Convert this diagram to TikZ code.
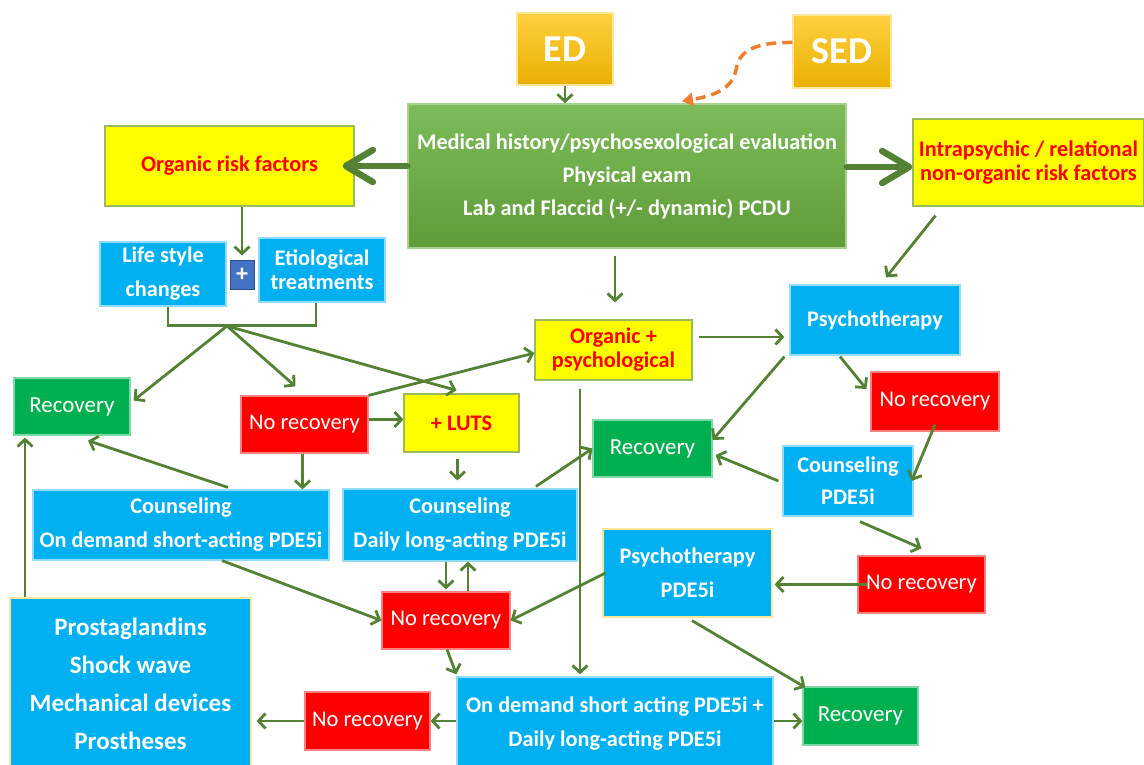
\documentclass[tikz,border=0pt]{standalone}
\usepackage{fontspec}
\setmainfont{Carlito}
\usetikzlibrary{arrows.meta,calc}
\definecolor{lg}{HTML}{548235}
\definecolor{cy}{HTML}{00B0F0}
\definecolor{cyb}{HTML}{8FDDF8}
\definecolor{yl}{HTML}{FFFF00}
\definecolor{ylb}{HTML}{9BBB59}
\definecolor{rd}{HTML}{FF0000}
\definecolor{rdb}{HTML}{FF8080}
\definecolor{gr}{HTML}{00B050}
\definecolor{grb}{HTML}{7FD8A8}
\definecolor{goldt}{HTML}{FFD040}
\definecolor{goldb}{HTML}{E9B000}
\definecolor{goldl}{HTML}{FFE699}
\definecolor{maint}{HTML}{7DBB5A}
\definecolor{mainb}{HTML}{5F9C38}
\definecolor{mainl}{HTML}{A9D18E}
\definecolor{org}{HTML}{ED7D31}
\definecolor{plusc}{HTML}{4472C4}
\definecolor{plusd}{HTML}{2F528F}
\begin{document}
\begin{tikzpicture}[x=1pt,y=-1pt,
  bx/.style 2 args={minimum width=#1pt, minimum height=#2pt, inner sep=0pt, align=center},
  bf/.style={font=\bfseries\fontsize{22.3}{#1}\selectfont},
  cyanb/.style={fill=cy, draw=cyb, line width=1.2pt, text=white},
  yelb/.style={fill=yl, draw=ylb, line width=1.2pt, text=rd},
  redb/.style={fill=rd, draw=rdb, line width=1.2pt, text=white, font=\fontsize{22.5}{24}\selectfont},
  grnb/.style={fill=gr, draw=grb, line width=1.2pt, text=white, font=\fontsize{23}{24}\selectfont},
  goldbox/.style={top color=goldt, bottom color=goldb, draw=goldl, line width=1.5pt, text=white, font=\bfseries\fontsize{38}{40}\selectfont},
  mainbox/.style={top color=maint, bottom color=mainb, draw=mainl, line width=1.5pt, text=white},
  ar/.style={draw=lg, line width=2.8pt, -{Straight Barb[length=7pt,width=15pt]}},
  ln/.style={draw=lg, line width=2.8pt},
  thick arrow/.style={draw=lg, line width=6.5pt, line cap=round, -{Straight Barb[length=27pt,width=32pt,round]}},
]
\useasboundingbox (0,0) rectangle (1144,765);

% ---------- nodes ----------
\node[goldbox,bx={96}{72}] (ED) at (565,49) {ED};
\node[goldbox,bx={98}{73}] (SED) at (842,51.5) {SED};
\node[mainbox,bx={438}{144},bf=33] (main) at (627,176) {Medical history/psychosexological evaluation\\Physical exam\\Lab and Flaccid (+/- dynamic) PCDU};
\node[yelb,bx={249}{80},bf=24] (orf) at (229.5,166) {Organic risk factors};
\node[yelb,bx={231}{87},bf=24] (intra) at (1028.5,162.5) {Intrapsychic / relational\\non-organic risk factors};
\node[cyanb,bx={126}{64},bf=34] (life) at (163,274) {Life style\\changes};
\node[fill=plusc, draw=plusd, line width=1pt, text=white, bx={24}{29}, font=\bfseries\fontsize{24}{24}\selectfont] (plus) at (242,274.5) {+};
\node[cyanb,bx={126}{64},bf=24] (etio) at (322,270) {Etiological\\treatments};
\node[yelb,bx={157}{60},bf=24] (op) at (613.5,350) {Organic +\\psychological};
\node[cyanb,bx={170}{70},bf=24] (psy) at (875,320) {Psychotherapy};
\node[grnb,bx={116}{57}] (rec1) at (72,406.5) {Recovery};
\node[redb,bx={127}{57}] (nr1) at (304.5,424.5) {No recovery};
\node[yelb,bx={115}{58},bf=24] (luts) at (461.5,423) {+ LUTS};
\node[grnb,bx={119}{57}] (rec2) at (652.5,448.5) {Recovery};
\node[redb,bx={128}{59}] (nr2) at (935,401.5) {No recovery};
\node[cyanb,bx={130}{70},bf=32] (cp) at (848,481) {Counseling\\PDE5i};
\node[cyanb,bx={296}{70},bf=34] (cod) at (181,525) {Counseling\\On demand short-acting PDE5i};
\node[cyanb,bx={234}{72},bf=34] (cdl) at (460,525) {Counseling\\Daily long-acting PDE5i};
\node[cyanb,bx={169}{88},bf=34,draw=goldl] (ppde) at (687.5,573) {Psychotherapy\\PDE5i};
\node[redb,bx={127}{57}] (nr3) at (921.5,584.5) {No recovery};
\node[redb,bx={128}{57}] (nr4) at (446,620.5) {No recovery};
\node[cyanb,bx={241}{172},draw=goldl,font=\bfseries\fontsize{25}{38}\selectfont] (pros) at (130.5,684) {Prostaglandins\\Shock wave\\Mechanical devices\\Prostheses};
\node[cyanb,bx={316}{93},bf=34] (odd) at (615,723.5) {On demand short acting PDE5i +\\Daily long-acting PDE5i};
\node[redb,bx={125}{58}] (nr5) at (367.5,721) {No recovery};
\node[grnb,bx={115}{58}] (rec3) at (860.5,716) {Recovery};

% ---------- connectors ----------
\draw[ar] (ED.south) -- (ED.south |- main.north);
\draw[draw=org, line width=3.5pt, dash pattern=on 10pt off 6pt, -{Triangle[length=11pt,width=13pt]}]
  ([yshift=9pt]SED.west) .. controls (748,42) and (738,55) .. (736,70)
  .. controls (732,90) and (712,96) .. ([xshift=55pt,yshift=2pt]main.north);
\draw[thick arrow] ([yshift=10pt]main.west) -- ([xshift=-12pt,yshift=10pt]main.west -| orf.east);
\draw[thick arrow] ([yshift=9pt]main.east) -- ([yshift=9pt]main.east -| intra.west);
\draw[ar, shorten <=7pt, shorten >=17pt] ([xshift=-12pt]main.south) -- ([xshift=1.5pt]op.north);
\draw[ar, shorten >=4pt] (orf.south -| plus.north) -- (plus.north);
\draw[ln] ([xshift=5pt]life.south) -- ++(0,19) coordinate (bl) -| ([xshift=-6pt]etio.south);
\coordinate (br) at (227,326);
\draw[ar] (br) -- ([xshift=3pt,yshift=6pt]rec1.east);
\draw[ar] (br) -- ([xshift=-9pt,yshift=9pt]nr1.north);
\draw[ar] (br) -- ([xshift=-5pt,yshift=3pt]luts.north);
\draw[ar] (nr1.north east) -- ([yshift=-3pt]op.west);
\draw[ar] ([yshift=5pt]nr1.east) -- ([yshift=5pt]nr1.east -| luts.west);
\draw[ar] ([xshift=-2pt]nr1.south) -- ([xshift=-2pt]nr1.south |- cod.north);
\draw[ar, shorten <=6pt, shorten >=8pt] ([xshift=-4pt]luts.south) -- ([xshift=-4pt]luts.south |- cdl.north);
\draw[ar] ([xshift=47pt,yshift=2pt]cod.north) -- ([xshift=16pt,yshift=-5pt]rec1.south);
\draw[ar, shorten <=6pt, shorten >=5pt] ([yshift=13pt]op.east) -- ([yshift=13pt]op.east -| psy.west);
\draw[ar] ([xshift=-93pt,yshift=-9pt]intra.south) -- ([xshift=11pt,yshift=7pt]psy.north);
\draw[ar] ([xshift=-5pt,yshift=-1pt]psy.south west) -- ([yshift=8.5pt]rec2.east);
\draw[ar] ([xshift=-35pt,yshift=-1pt]psy.south) -- ([xshift=-4pt,yshift=12.5pt]nr2.west);
\draw[ar] ([yshift=7pt]nr2.south) -- ([xshift=-2pt]cp.east);
\draw[ar] ([xshift=-4pt]cp.west) -- ([xshift=3pt,yshift=-6.5pt]rec2.east);
\draw[ar] ([xshift=12pt,yshift=-5pt]cp.south) -- ([yshift=7pt]nr3.north);
\draw[ar, shorten >=2pt] ([xshift=10pt]nr3.west) -- (nr3.west -| ppde.east);
\draw[ar] ([xshift=76pt,yshift=2pt]cdl.north) -- (rec2.west);
\draw[ar, shorten <=8pt, shorten >=2pt] ([xshift=-33.5pt]op.south) -- ([xshift=-33.5pt]op.south |- odd.north);
\draw[ar, shorten >=2pt] (nr4.north |- cdl.south) -- (nr4.north);
\draw[ar] ([xshift=22pt]nr4.north) -- ([xshift=22pt]nr4.north |- cdl.south);
\draw[ar] ([xshift=41pt]cod.south) -- (nr4.west);
\draw[ar] ([xshift=3pt]ppde.west) -- (nr4.east);
\draw[ar] ([xshift=1pt]nr4.south) -- ([yshift=2pt]odd.north west);
\draw[ar] ([xshift=4.5pt,yshift=-3pt]ppde.south) -- ([xshift=3pt,yshift=-1pt]rec3.north west);
\draw[ar] ([yshift=-5pt]rec3.west -| odd.east) -- ([yshift=-5pt]rec3.west);
\draw[ar] (nr5.east -| odd.west) -- (nr5.east);
\draw[ar, shorten >=5pt] (nr5.west) -- (nr5.west -| pros.east);
\draw[ar, shorten >=2pt] ([xshift=-105.5pt]pros.north) -- ([xshift=-105.5pt]pros.north |- rec1.south);
\end{tikzpicture}
\end{document}
